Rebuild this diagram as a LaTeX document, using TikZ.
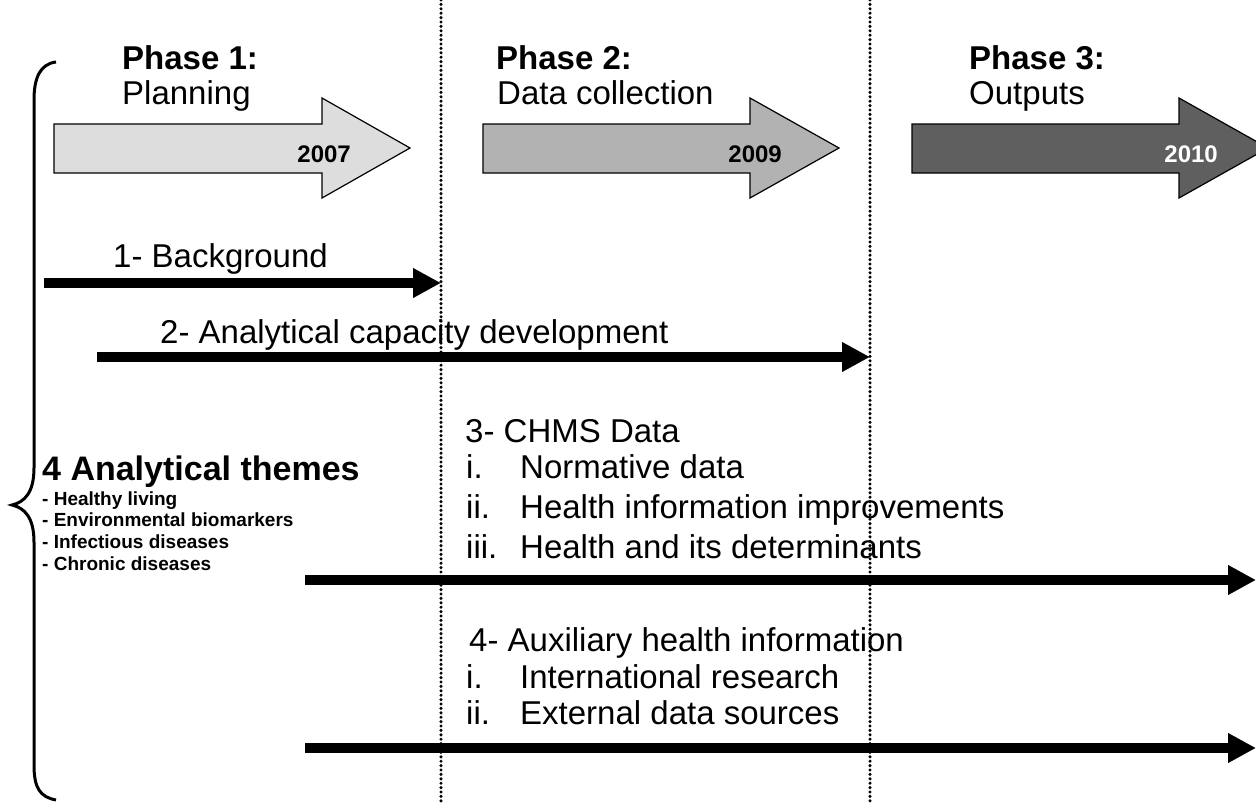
\documentclass[tikz,border=0pt]{standalone}
\usepackage{fontspec}
\setmainfont{Liberation Sans}
\usetikzlibrary{arrows.meta}
\definecolor{phaseA}{HTML}{DDDDDD}
\definecolor{phaseB}{HTML}{B2B2B2}
\definecolor{phaseC}{HTML}{5F5F5F}
\newcommand{\itm}[2]{\makebox[54pt][l]{#1}#2}
\begin{document}
\begin{tikzpicture}[x=1pt,y=-1pt,
  txt/.style={anchor=base west,inner sep=0pt,font=\fontsize{33}{40}\selectfont},
  btxt/.style={txt,font=\fontsize{33}{40}\selectfont\bfseries},
  small/.style={anchor=base west,inner sep=0pt,font=\fontsize{19}{22}\selectfont\bfseries},
  year/.style={anchor=base east,inner sep=0pt,font=\fontsize{24}{28}\selectfont\bfseries},
  phase/.style={draw=black,line width=1.2pt},
  divider/.style={line width=3.4pt,dash pattern=on 0pt off 4.4pt,line cap=round},
  bigarrow/.style={line width=10pt,-{Triangle[length=28pt,width=28pt]}},
  brace/.style={line width=3pt}]
\useasboundingbox (0,0) rectangle (1256,803);
\clip (0,0) rectangle (1256,803);

% phase arrows
\draw[phase,fill=phaseA] (54,124) -- (322,124) -- (322,98) -- (410,148) -- (322,198) -- (322,173) -- (54,173) -- cycle;
\draw[phase,fill=phaseB] (483,124) -- (750,124) -- (750,98) -- (839,148) -- (750,198) -- (750,173) -- (483,173) -- cycle;
\draw[phase,fill=phaseC] (912,124) -- (1179,124) -- (1179,98) -- (1268,148) -- (1179,198) -- (1179,173) -- (912,173) -- cycle;

\node[year] (y1) at (351,162) {2007};
\node[year] (y2) at (782,162) {2009};
\node[year,text=white] (y3) at (1218,162) {2010};

\node[btxt] (p1) at (122,69) {Phase 1:};
\node[txt] (p1b) at (122,104) {Planning};
\node[btxt] (p2) at (496,69) {Phase 2:};
\node[txt] (p2b) at (497,104) {Data collection};
\node[btxt] (p3) at (969,69) {Phase 3:};
\node[txt] (p3b) at (969,104) {Outputs};

% dividers
\coordinate (d1t) at (441,0); \coordinate (d1b) at (441,803);
\coordinate (d2t) at (870,0); \coordinate (d2b) at (870,803);
\draw[divider] (d1t) -- (d1b);
\draw[divider] (d2t) -- (d2b);

% brace
\draw[brace] (56,62) .. controls (40,64) and (34,78) .. (34,100) -- (34,468)
  .. controls (34,492) and (25,502) .. (12,505)
  .. controls (25,508) and (34,518) .. (34,542) -- (34,765)
  .. controls (34,788) and (40,797) .. (56,800);

% timeline arrows
\coordinate (a1s) at (44,283); \coordinate (a1e) at (441,283);
\coordinate (a2s) at (97,357); \coordinate (a2e) at (870,357);
\coordinate (a3s) at (305,580); \coordinate (a3e) at (1256,580);
\coordinate (a4s) at (305,748); \coordinate (a4e) at (1256,748);
\draw[bigarrow] (a1s) -- (a1e);
\draw[bigarrow] (a2s) -- (a2e);
\draw[bigarrow] (a3s) -- (a3e);
\draw[bigarrow] (a4s) -- (a4e);

\node[txt] (l1) at (113,267) {1- Background};
\node[txt] (l2) at (160,343) {2- Analytical capacity development};

\node[txt] (l3) at (465,442) {3- CHMS Data};
\node[txt] (l3a) at (466,478) {\itm{i.}{Normative data}};
\node[txt] (l3b) at (466,518) {\itm{ii.}{Health information improvements}};
\node[txt] (l3c) at (466,558) {\itm{iii.}{Health and its determinants}};

\node[txt] (l4) at (469,651) {4- Auxiliary health information};
\node[txt] (l4a) at (466,688) {\itm{i.}{International research}};
\node[txt] (l4b) at (466,724) {\itm{ii.}{External data sources}};

\node[btxt,font=\fontsize{34}{40}\selectfont\bfseries] (th) at (42,480) {4 Analytical themes};
\node[small] (th1) at (42,505) {- Healthy living};
\node[small] (th2) at (42,526) {- Environmental biomarkers};
\node[small] (th3) at (42,548) {- Infectious diseases};
\node[small] (th4) at (42,570) {- Chronic diseases};
\end{tikzpicture}
\end{document}
